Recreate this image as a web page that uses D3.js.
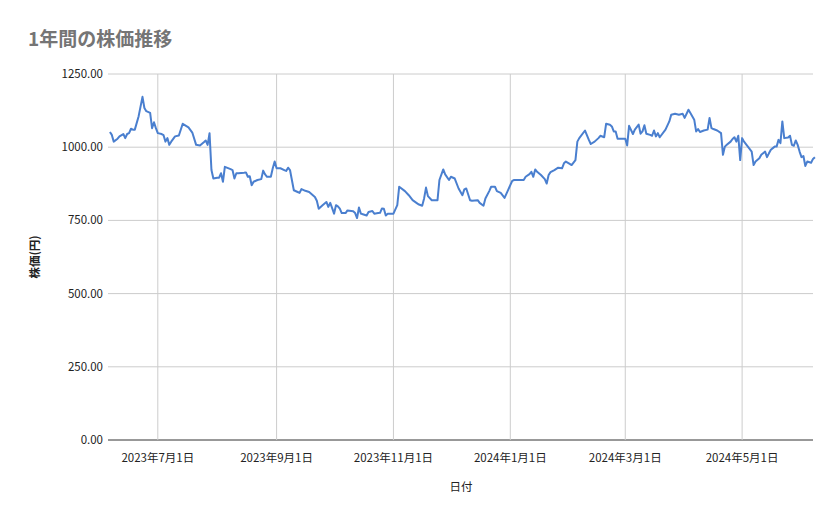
<!DOCTYPE html>
<html><head><meta charset="utf-8">
<script src="https://cdn.jsdelivr.net/npm/d3@7"></script>
<style>body{margin:0;background:#fff;font-family:"Noto Sans CJK JP","Roboto",sans-serif;}</style>
</head><body>
<script>
// days since 2023-06-05
var startDate = "2023-06-05";
var days = [1,2,3,5,6,8,9,10,11,12,13,14,16,18,19,20,22,23,24,25,26,28,29,30,31,32,33,35,37,39,42,44,46,48,50,51,52,53,54,55,57,58,59,60,61,64,65,66,67,68,71,72,73,74,75,76,78,80,81,82,83,85,86,87,88,90,92,93,94,95,97,99,100,101,103,105,108,109,110,112,114,115,116,117,118,119,120,121,122,124,125,127,128,129,130,131,132,133,135,136,138,139,141,142,143,144,145,146,148,149,151,152,155,157,159,161,162,164,165,166,167,169,170,172,173,175,176,178,179,
181,183,185,186,187,189,190,193,194,196,197,199,200,202,203,205,207,209,211,212,215,217,218,220,221,222,223,224,226,228,229,230,231,233,235,237,238,239,241,242,244,245,246,249,251,252,254,256,257,259,260,262,263,264,265,266,268,270,271,272,274,275,277,278,279,280,281,283,284,285,286,287,288,291,293,294,296,298,300,301,303,304,306,307,308,309,311,313,314,315,316,318,320,321,322,323,325,326,327,328,329,330,331,332,334,336,337,338,340,341,343,344,345,346,348,349,350,351,352,353,355,356,357,358,359,360,361,362,363,364,365,367,368,369];
var prices = [1052,1042,1019,1029,1037,1045,1031,1045,1048,1063,1060,1060,1106,1172,1134,1123,1117,1065,1085,1065,1048,1045,1041,1019,1031,1008,1019,1037,1040,1080,1068,1050,1008,1006,1017,1023,1008,1048,922,893,896,896,911,882,933,925,922,893,911,911,913,914,899,901,870,882,888,891,920,907,899,899,928,951,928,928,922,919,930,922,853,847,844,857,851,847,830,817,790,802,813,796,810,792,773,802,798,790,775,775,784,782,781,775,758,794,773,771,767,779,782,773,775,776,791,790,767,773,773,773,802,865,850,836,819,810,805,800,825,862,833,819,819,819,888,924,907,888,899,
893,859,836,856,859,819,817,819,810,800,825,850,865,865,850,844,827,856,885,888,888,888,899,908,916,899,924,916,905,891,876,905,915,922,930,928,945,951,943,939,956,1019,1031,1057,1025,1011,1019,1031,1039,1034,1080,1077,1071,1054,1054,1029,1029,1029,1006,1073,1045,1060,1077,1046,1054,1075,1046,1042,1039,1057,1037,1048,1034,1060,1088,1111,1114,1111,1114,1100,1128,1117,1094,1054,1062,1052,1057,1060,1100,1065,1062,1057,1048,974,1002,1008,1019,1028,1034,1019,1039,956,1031,1019,1002,985,939,951,962,974,985,966,979,991,1002,1002,1025,1014,1088,1031,1033,1039,1008,1005,1023,1008,985,966,970,936,951,947,960,966];
var yTicks = [0,250,500,750,1000,1250];
var xTickDates = ["2023-07-01","2023-09-01","2023-11-01","2024-01-01","2024-03-01","2024-05-01"];

var W = 839, H = 519, m = {l:108, r:26, t:74, b:79};
var parse = d3.utcParse("%Y-%m-%d");
var t0 = parse(startDate);
var data = days.map(function(d,i){ return {date:d3.utcDay.offset(t0,d), v:prices[i]}; });

var svg = d3.select("body").append("svg").attr("width",W).attr("height",H);
var x = d3.scaleUtc().domain([d3.utcDay.offset(t0,0), d3.utcDay.offset(t0,368)]).range([m.l, W-m.r]);
var y = d3.scaleLinear().domain([0,1250]).range([H-m.b, m.t]);

svg.append("text").attr("x",28).attr("y",46).attr("fill","#757575").attr("font-size",19).attr("font-weight","bold").text("1年間の株価推移");

svg.append("g").selectAll("line").data(yTicks).enter().append("line")
  .attr("x1",m.l).attr("x2",W-m.r).attr("y1",function(d){return y(d);}).attr("y2",function(d){return y(d);})
  .attr("stroke",function(d){return d===0?"#333":"#cccccc";}).attr("stroke-width",1);
svg.append("g").selectAll("text").data(yTicks).enter().append("text")
  .attr("x",m.l-5).attr("y",function(d){return y(d)+4;}).attr("text-anchor","end").attr("font-size",11.5).attr("fill","#222")
  .text(function(d){return d3.format(".2f")(d);});

var xt = xTickDates.map(parse);
svg.append("g").selectAll("line").data(xt).enter().append("line")
  .attr("x1",function(d){return x(d);}).attr("x2",function(d){return x(d);}).attr("y1",m.t).attr("y2",H-m.b)
  .attr("stroke","#cccccc");
svg.append("g").selectAll("text").data(xt).enter().append("text")
  .attr("x",function(d){return x(d);}).attr("y",H-m.b+22).attr("text-anchor","middle").attr("font-size",11.5).attr("fill","#222")
  .text(function(d){return d.getUTCFullYear()+"年"+(d.getUTCMonth()+1)+"月"+d.getUTCDate()+"日";});

svg.append("path").datum(data).attr("fill","none").attr("stroke","#4a7fcf").attr("stroke-width",2).attr("stroke-linejoin","round")
  .attr("d", d3.line().x(function(d){return x(d.date);}).y(function(d){return y(d.v);}));

svg.append("text").attr("x",461).attr("y",491).attr("text-anchor","middle").attr("font-size",11.5).attr("fill","#222").text("日付");
svg.append("text").attr("transform","translate(39,257) rotate(-90)").attr("text-anchor","middle").attr("font-size",11.5).attr("font-weight","bold").attr("fill","#222").text("株価(円)");
</script>
</body></html>
